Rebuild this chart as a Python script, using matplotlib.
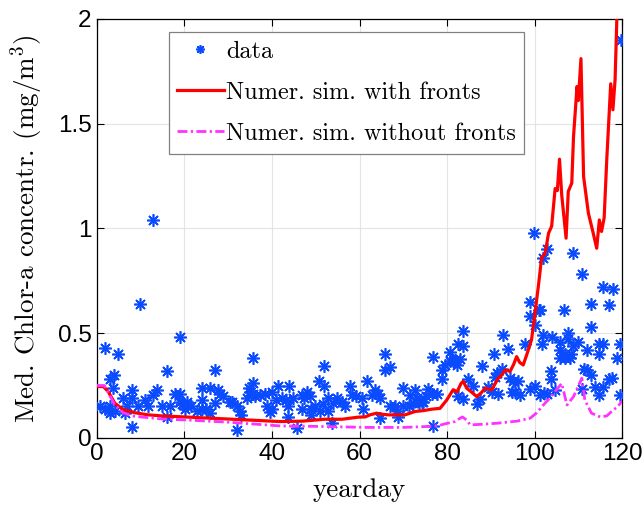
import numpy as np
import matplotlib
matplotlib.use("Agg")
import matplotlib.pyplot as plt
from matplotlib.ticker import FormatStrFormatter

plt.rcParams["mathtext.fontset"] = "cm"
plt.rcParams["axes.unicode_minus"] = False

# observed medians (yearday, value)
data_day = [0.7, 1.8, 1.8, 3, 3, 3, 3.9, 3.7, 4.1, 4.8, 6, 6.8, 6.4, 7.9, 7.9, 7.9, 9.4, 9.8, 11, 11.7,
            12.8, 12.8, 13.7, 14.8, 15.9, 15.9, 16.7, 17.8, 18.9, 18.9, 19, 19.5, 20.1,
            20.5, 21.6, 22.8, 23.9, 23.9, 23.9, 25, 25.8, 25.8, 26.9, 27, 27.7, 28.1, 28.9, 30.4, 30.8,
            31.9, 31.9, 32.7, 33, 34.2, 34.8, 35, 35.7, 35.7, 35.7, 36.1, 37.3, 38.4, 38.8, 39.5, 39.9, 39.9, 41,
            41.4, 42.2, 43.3, 43.9, 43.7, 43.7, 44.9, 45.8, 46.8, 46.8, 47.2, 47.9, 48.7, 48.9, 48.9, 49.8,
            50.8, 51, 51.7, 51.9, 51.9, 52.9, 52.9, 53.6, 54, 54.8, 55.9, 56.7, 57.8, 58.2, 59.3, 60.5, 60.9, 61.6,
            62.8, 63.5, 64.3, 64.7, 64.7, 65.8, 65.8, 66.9, 67, 68.1, 68.9, 68.9, 70, 70, 71.2, 71.5, 72.3,
            72.7, 73.1, 73.5, 74.2, 74.6, 75.3, 75.7, 76.5, 76.9, 76.9, 77.6, 78.8, 78.8, 79.5, 80.7, 80.7,
            81.4, 81.8, 82.2, 82.6, 82.6, 83, 83.7, 83.7, 83.7,
            84.9, 86, 86.8, 87.5, 87.9, 89.4, 90.2, 90.8, 91, 91.4, 91.7, 92.5, 92.7, 93.9, 94.4, 94.8, 95.1,
            95.5, 96.3, 96.7, 97.8, 99, 99, 99, 99.9, 100.1, 100.1, 100.9, 101.3, 101.3, 101.8, 102, 102,
            102.2, 102.8, 102.9,
            103.8, 103.8, 103.9, 104.7, 105.8, 105.8, 105.8, 106.7, 106.9, 107, 107.7, 107.7, 108, 108.3,
            108.7, 108.7, 110, 110.8, 110.8, 111.2, 111.9, 111.9, 112.8, 112.8, 113, 113.8, 114.8, 114.8,
            114.8, 115.6, 115.7, 115.7, 116.9, 116.9, 117.6, 117.9, 118.8, 119.5, 119.5, 119.8]
data_val = [0.15, 0.14, 0.43, 0.28, 0.15, 0.12, 0.30, 0.24, 0.13, 0.40, 0.19, 0.15, 0.12, 0.23, 0.19, 0.05, 0.15, 0.64, 0.18, 0.15,
            1.04, 0.205, 0.23, 0.15, 0.32, 0.10, 0.15, 0.21, 0.48, 0.21, 0.17, 0.16, 0.14,
            0.17, 0.15, 0.13, 0.24, 0.18, 0.14, 0.14, 0.24, 0.12, 0.325, 0.165, 0.23, 0.21, 0.20, 0.17, 0.17,
            0.15, 0.04, 0.13, 0.11, 0.19, 0.24, 0.22, 0.38, 0.26, 0.21, 0.20, 0.205, 0.21, 0.15, 0.125, 0.14, 0.22, 0.18,
            0.25, 0.19, 0.18, 0.25, 0.15, 0.10, 0.19, 0.046, 0.205, 0.14, 0.19, 0.22, 0.20, 0.14, 0.11, 0.15,
            0.27, 0.13, 0.16, 0.345, 0.25, 0.19, 0.13, 0.07, 0.165, 0.19, 0.17, 0.15, 0.25, 0.205, 0.20, 0.19, 0.14, 0.27,
            0.205, 0.23, 0.21, 0.19, 0.095, 0.40, 0.325, 0.34, 0.15, 0.15, 0.13, 0.10, 0.24, 0.15, 0.15, 0.205, 0.165,
            0.23, 0.19, 0.165, 0.17, 0.17, 0.20, 0.235, 0.21, 0.385, 0.055, 0.21, 0.325, 0.28, 0.35, 0.41, 0.365,
            0.365, 0.37, 0.35, 0.45, 0.20, 0.375, 0.51, 0.44, 0.185,
            0.28, 0.25, 0.16, 0.185, 0.345, 0.245, 0.22, 0.40, 0.29, 0.31, 0.21, 0.33, 0.49, 0.425, 0.285, 0.22, 0.27,
            0.22, 0.27, 0.205, 0.45, 0.235, 0.65, 0.58, 0.98, 0.54, 0.25, 0.61, 0.61, 0.205, 0.45, 0.49, 0.86,
            0.215, 0.90, 0.21,
            0.32, 0.28, 0.48, 0.23, 0.46, 0.42, 0.38, 0.61, 0.38, 0.40, 0.50, 0.47, 0.38, 0.40,
            0.44, 0.88, 0.46, 0.78, 0.235, 0.33, 0.325, 0.42, 0.64, 0.53, 0.30, 0.245, 0.45, 0.40,
            0.205, 0.72, 0.45, 0.245, 0.635, 0.28, 0.285, 0.71, 0.38, 0.45, 0.205, 1.90]

# simulation with fronts
fr_day = [0, 1.5, 2.6, 4.1, 6, 8.7, 11.7, 14.8, 20, 25, 30, 35, 41.8, 47, 52, 56, 59.7, 61.3, 62.4, 63.9,
          65, 66.6, 68, 70.4, 72.7, 74.5, 76.5, 78.4, 79.9, 81.4, 82.3, 83.2, 83.7, 84.5, 85.5, 86.8, 87.8,
          88.7, 90.2, 91.7, 92.5, 93.3, 94.4, 95.2, 95.9, 96.6, 97.4, 98.2, 99.3, 100.1, 100.9, 101.6, 102.4,
          103.2, 103.9, 104.7, 105.2, 105.7, 106.2, 107.2, 107.7, 108.5, 108.9, 109.7, 110, 110.6, 111.2,
          112.3, 113.4, 114.2, 114.8, 115.3, 115.9, 116.5, 117.4, 117.9, 118.4, 118.8, 119.2, 120]
fr_val = [0.245, 0.245, 0.22, 0.165, 0.135, 0.12, 0.11, 0.105, 0.10, 0.095, 0.09, 0.085, 0.078, 0.08, 0.089,
          0.089, 0.099, 0.10, 0.11, 0.118, 0.113, 0.11, 0.11, 0.11, 0.126, 0.13, 0.137, 0.141, 0.18, 0.23,
          0.22, 0.26, 0.27, 0.237, 0.22, 0.197, 0.215, 0.237, 0.229, 0.285, 0.30, 0.325, 0.317, 0.35, 0.388,
          0.36, 0.348, 0.396, 0.468, 0.595, 0.73, 0.858, 0.88, 0.977, 1.01, 1.19, 1.18, 1.33, 1.16, 0.953,
          1.176, 1.216, 1.438, 1.677, 1.61, 1.81, 1.247, 1.072, 0.977, 0.905, 1.04, 0.985, 1.05, 1.33, 1.69,
          1.566, 1.71, 2.0, 2.1, 2.2]

# simulation without fronts
nf_day = [0, 1.7, 3, 4, 6, 8, 10, 15, 20, 30, 42, 50, 62, 70, 75, 78, 79.5, 81.8, 83, 83.5, 84.5, 85.3,
          88, 91.4, 96, 99, 100.5, 102, 103.5, 105, 106.2, 107.4, 108.9, 110.8, 111.5, 113, 115, 116.5,
          117.6, 119, 120]
nf_val = [0.25, 0.25, 0.2, 0.16, 0.12, 0.105, 0.10, 0.09, 0.086, 0.075, 0.057, 0.055, 0.05, 0.05, 0.054,
          0.058, 0.067, 0.078, 0.094, 0.10, 0.085, 0.062, 0.065, 0.07, 0.08, 0.094, 0.12, 0.157, 0.19, 0.23,
          0.26, 0.157, 0.197, 0.285, 0.18, 0.118, 0.10, 0.105, 0.126, 0.15, 0.175]

serif = "cmr10"

fig = plt.figure(figsize=(6.42, 5.08), dpi=100)
ax = fig.add_axes([0.151, 0.138, 0.818, 0.825])

ax.plot(data_day, data_val, linestyle="none", marker=(8, 2, 0), color="#0a4bff",
        ms=9, mew=1.2, label="data", zorder=3)
ax.plot(fr_day, fr_val, color="#ff0000", lw=2.3, label="Numer. sim. with fronts", zorder=4)
ax.plot(nf_day, nf_val, color="#ff33ff", lw=2.0, dashes=(3.6, 1.2, 0.8, 1.2),
        label="Numer. sim. without fronts", zorder=4)

ax.set_xlim(0, 120)
ax.set_ylim(0, 2)
ax.set_xticks(np.arange(0, 121, 20))
ax.set_yticks([0, 0.5, 1, 1.5, 2])
ax.yaxis.set_major_formatter(FormatStrFormatter("%g"))
ax.grid(True, color="#e3e3e3", lw=0.8, zorder=0)
ax.set_axisbelow(True)
ax.tick_params(direction="in", top=True, right=True, length=5, width=0.8, labelsize=17.5, pad=4)
for lab in ax.get_xticklabels() + ax.get_yticklabels():
    lab.set_fontfamily("Liberation Sans")
for s in ax.spines.values():
    s.set_linewidth(0.9)

ax.set_xlabel("yearday", fontfamily=serif, fontsize=19.5, labelpad=9)
ax.set_ylabel("Med. Chlor-a concentr. (mg/m$^3$)", fontfamily=serif, fontsize=19.5, labelpad=9)

leg = ax.legend(loc="upper left", bbox_to_anchor=(0.137, 0.968), prop={"family": serif, "size": 17.5},
                fancybox=False, edgecolor="#808080", framealpha=1, handlelength=1.9,
                labelspacing=0.78, borderpad=0.35, handletextpad=0.1, borderaxespad=0,
                markerscale=0.7)
leg.get_frame().set_linewidth(0.9)

fig.savefig("out.png", dpi=100)
